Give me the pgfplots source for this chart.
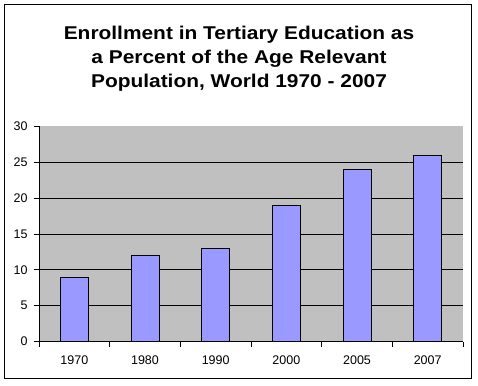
\documentclass[border=0pt]{standalone}
\usepackage{pgfplots}
\pgfplotsset{compat=1.18}
\usepackage{fontspec}
\setmainfont{Liberation Sans}
\newfontfamily\titlefont{Liberation Sans}[FakeStretch=1.13]
\definecolor{plotgray}{HTML}{C0C0C0}
\definecolor{barblue}{HTML}{9999FF}
\begin{document}
\begin{tikzpicture}[x=1pt,y=1pt]
\path (0,0) rectangle (478,385);
\draw[line width=1.3pt] (4.8,6.2) rectangle (471.5,380.5);
\node[font=\titlefont\bfseries\fontsize{18.5}{24}\selectfont, align=center] at (239,326.5) {Enrollment in Tertiary Education as\\a Percent of the Age Relevant\\Population, World 1970 - 2007};
\begin{axis}[
  at={(39pt,43.5pt)}, anchor=south west,
  scale only axis, width=424pt, height=215pt,
  xmin=-0.5, xmax=5.5, ymin=0, ymax=30,
  axis background/.style={fill=plotgray},
  axis x line*=bottom, axis y line*=left,
  axis line style={line width=0.8pt, -},
  xtick={0,...,5},
  xticklabels={1970,1980,1990,2000,2005,2007},
  major x tick style={draw=none},
  minor xtick={-0.5,0.5,...,5.5},
  minor x tick style={line width=0.8pt, black},
  minor tick length=5pt,
  ytick={0,5,...,25},
  extra y ticks={30},
  extra y tick style={grid=none},
  y tick style={line width=0.8pt, black},
  major tick length=5pt,
  tick align=outside,
  ymajorgrids,
  grid style={line width=0.8pt, black},
  tick label style={font=\fontsize{12.5}{14}\selectfont},
  /pgf/number format/assume math mode=true,
  xticklabel style={yshift=-6pt},
  yticklabel style={xshift=-3pt},
  ybar, bar width=28pt,
]
\addplot[fill=barblue, draw=black, line width=0.8pt] coordinates {(0,9) (1,12) (2,13) (3,19) (4,24) (5,26)};
\end{axis}
\end{tikzpicture}
\end{document}
